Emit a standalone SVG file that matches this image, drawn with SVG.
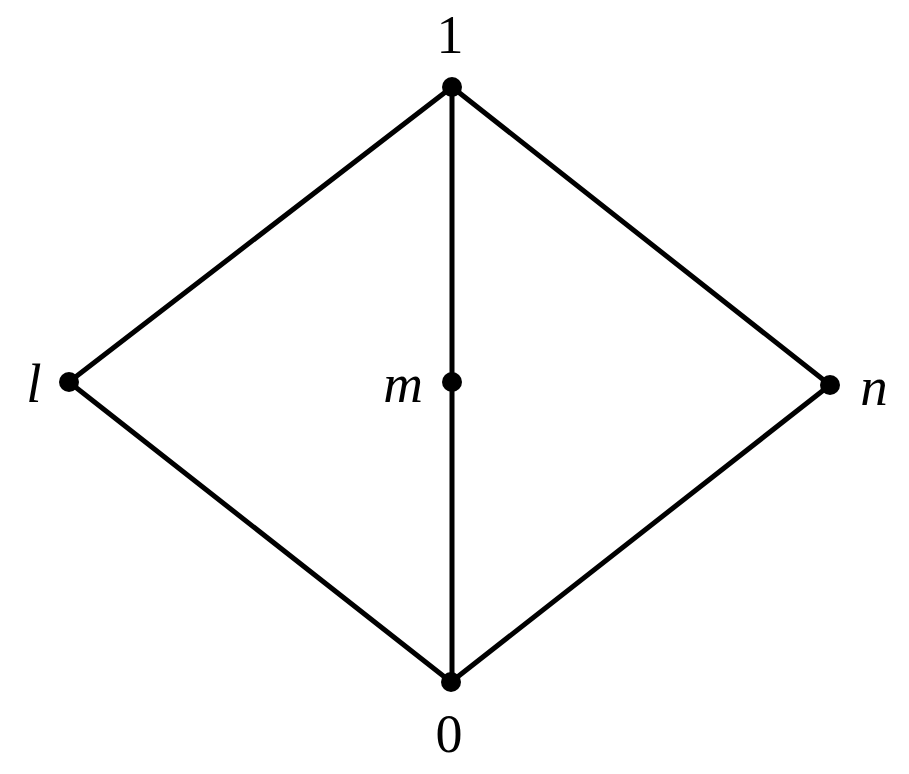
<svg xmlns="http://www.w3.org/2000/svg" width="909" height="774" viewBox="0 0 909 774">
<style>
.edge{stroke:#000;stroke-width:5;stroke-linecap:round;fill:none}
.dot{fill:#000}
.num{font-family:"Liberation Serif","DejaVu Serif",serif;font-size:54px;fill:#000;text-anchor:middle}
.var{font-family:"Liberation Serif","DejaVu Serif",serif;font-style:italic;font-size:55px;fill:#000}
</style>
<rect width="909" height="774" fill="#fff"/>
<g id="connectors">
<line class="edge" x1="452" y1="87" x2="69" y2="382"/>
<line class="edge" x1="452" y1="87" x2="452" y2="682"/>
<line class="edge" x1="452" y1="87" x2="830" y2="385"/>
<line class="edge" x1="69" y1="382" x2="451" y2="682"/>
<line class="edge" x1="830" y1="385" x2="451" y2="682"/>
</g>
<g id="node-1"><circle class="dot" cx="452" cy="87" r="10"/><text class="num" x="450" y="53">1</text></g>
<g id="node-l"><circle class="dot" cx="69" cy="382" r="10"/><text class="var" x="34" y="402" text-anchor="middle">l</text></g>
<g id="node-m"><circle class="dot" cx="452" cy="382" r="10"/><text class="var" x="403" y="402" text-anchor="middle">m</text></g>
<g id="node-n"><circle class="dot" cx="830" cy="385" r="10"/><text class="var" x="874" y="405" text-anchor="middle">n</text></g>
<g id="node-0"><circle class="dot" cx="451" cy="682" r="10"/><text class="num" x="449" y="752">0</text></g>
</svg>
